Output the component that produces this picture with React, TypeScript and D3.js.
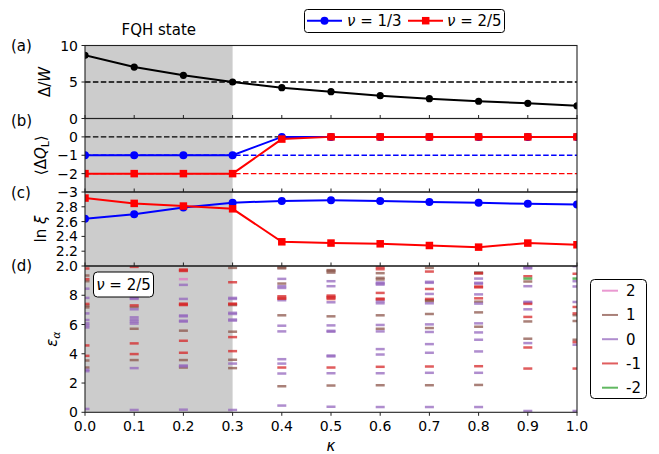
import React from 'react';
import * as d3 from 'd3';

// ---------- data ----------
const kappa = [0, 0.1, 0.2, 0.3, 0.4, 0.5, 0.6, 0.7, 0.8, 0.9, 1.0];
const gapRatio = [8.66, 7.05, 5.92, 5.0, 4.22, 3.67, 3.12, 2.71, 2.36, 2.08, 1.75];
const chargeNu13 = [-1, -1, -1, -1, 0, 0, 0, 0, 0, 0, 0];
const chargeNu25 = [-2, -2, -2, -2, -0.12, 0, 0, 0, 0, 0, 0];
const lnXiNu13 = [2.637, 2.7, 2.79, 2.855, 2.88, 2.887, 2.88, 2.864, 2.855, 2.84, 2.83];
const lnXiNu25 = [2.918, 2.846, 2.81, 2.773, 2.327, 2.31, 2.3, 2.277, 2.255, 2.31, 2.287];

const xTicks = [0, 0.1, 0.2, 0.3, 0.4, 0.5, 0.6, 0.7, 0.8, 0.9, 1.0];
const aTicks = [0, 5, 10];
const bTicks = [0, -1, -2, -3];
const cTicks = [2.0, 2.2, 2.4, 2.6, 2.8];
const dTicks = [0, 2, 4, 6, 8];

// entanglement spectrum levels per charge sector: [kappa, epsilon]
const sectorP2: [number, number][] = [[0.2, 9.1]];
const sectorP1: [number, number][] = [
  [0, 9.35], [0, 8.96], [0, 7.29], [0, 7.17], [0, 3.54], [0, 3.06],
  [0.1, 7.2], [0.1, 5.71], [0.1, 3.57],
  [0.2, 5.58], [0.2, 3.57], [0.2, 3.06],
  [0.3, 9.87], [0.3, 7.33], [0.3, 5.51], [0.3, 3.59], [0.3, 3.02],
  [0.4, 9.9], [0.4, 9.84], [0.4, 8.8], [0.4, 6.63], [0.4, 1.78],
  [0.5, 9.72], [0.5, 9.66], [0.5, 9.55], [0.5, 6.56], [0.5, 1.83],
  [0.6, 9.51], [0.6, 9.19], [0.6, 9.08], [0.6, 6.63], [0.6, 5.71], [0.6, 1.85],
  [0.7, 9.87], [0.7, 7.66], [0.7, 7.6], [0.7, 6.72], [0.7, 5.76], [0.7, 1.85],
  [0.8, 9.56], [0.8, 9.5], [0.8, 7.56], [0.8, 6.83], [0.8, 5.85], [0.8, 1.87],
  [0.9, 8.94], [0.9, 6.21], [0.9, 5.03],
  [1.0, 6.64], [1.0, 6.24], [1.0, 4.96],
];
const sector0: [number, number][] = [
  [0, 8.45], [0, 7.82], [0, 6.76], [0, 6.31], [0, 6.08], [0, 5.94], [0, 5.8], [0, 2.9], [0, 2.81], [0, 0.23],
  [0.1, 7.81], [0.1, 7.75], [0.1, 7.04], [0.1, 6.49], [0.1, 6.33], [0.1, 6.19], [0.1, 6.06], [0.1, 3.02], [0.1, 0.16],
  [0.2, 8.71], [0.2, 7.75], [0.2, 6.62], [0.2, 6.56], [0.2, 6.26], [0.2, 6.2], [0.2, 3.2], [0.2, 3.14], [0.2, 0.18],
  [0.3, 7.82], [0.3, 7.75], [0.3, 6.8], [0.3, 6.72], [0.3, 6.34], [0.3, 6.27], [0.3, 3.33], [0.3, 0.16],
  [0.4, 9.12], [0.4, 8.62], [0.4, 8.5], [0.4, 7.66], [0.4, 5.92], [0.4, 5.53], [0.4, 3.63], [0.4, 3.33], [0.4, 2.65], [0.4, 0.46],
  [0.5, 8.96], [0.5, 8.62], [0.5, 7.52], [0.5, 5.94], [0.5, 5.57], [0.5, 5.51], [0.5, 3.88], [0.5, 3.82], [0.5, 2.67], [0.5, 0.38],
  [0.6, 8.87], [0.6, 8.8], [0.6, 8.73], [0.6, 7.59], [0.6, 7.45], [0.6, 5.97], [0.6, 5.53], [0.6, 4.32], [0.6, 3.95], [0.6, 2.67], [0.6, 0.36],
  [0.7, 8.92], [0.7, 8.85], [0.7, 8.09], [0.7, 7.45], [0.7, 6.01], [0.7, 5.49], [0.7, 4.66], [0.7, 4.07], [0.7, 2.7], [0.7, 0.36],
  [0.8, 9.14], [0.8, 8.85], [0.8, 8.79], [0.8, 8.06], [0.8, 7.43], [0.8, 6.08], [0.8, 5.46], [0.8, 4.96], [0.8, 4.16], [0.8, 2.7], [0.8, 0.36],
  [0.9, 9.9], [0.9, 9.84], [0.9, 8.62], [0.9, 7.55], [0.9, 7.49], [0.9, 7.04], [0.9, 4.73], [0.9, 0.09],
  [1.0, 9.99], [1.0, 8.96], [1.0, 8.6], [1.0, 7.54], [1.0, 4.62], [1.0, 0.09],
];
const sectorM1: [number, number][] = [
  [0, 9.83], [0, 9.1], [0, 7.41], [0, 4.57], [0, 3.86],
  [0.1, 9.94], [0.1, 7.31], [0.1, 4.71], [0.1, 3.98],
  [0.2, 9.76], [0.2, 9.7], [0.2, 9.66], [0.2, 7.43], [0.2, 7.37], [0.2, 7.33], [0.2, 4.89], [0.2, 4.07],
  [0.3, 8.89], [0.3, 7.43], [0.3, 7.38], [0.3, 5.14], [0.3, 4.18],
  [0.4, 7.93], [0.4, 7.82], [0.4, 7.76], [0.4, 3.06],
  [0.5, 7.98], [0.5, 7.89], [0.5, 7.84], [0.5, 7.74], [0.5, 3.06],
  [0.6, 9.92], [0.6, 9.78], [0.6, 8.16], [0.6, 7.77], [0.6, 7.72], [0.6, 3.11],
  [0.7, 9.62], [0.7, 8.43], [0.7, 7.75], [0.7, 3.13],
  [0.8, 9.5], [0.8, 8.6], [0.8, 8.54], [0.8, 7.79], [0.8, 3.15],
  [0.9, 9.3], [0.9, 7.41], [0.9, 6.52], [0.9, 4.43], [0.9, 2.99],
  [1.0, 9.47], [1.0, 7.2], [1.0, 6.76], [1.0, 4.8], [1.0, 2.99],
];
const sectorM2: [number, number][] = [[0.9, 9.14], [1.0, 9.14]];

const sectorLabels = ['2', '1', '0', '-1', '-2'];
const sectorColors = ['#e377c2', '#8c564b', '#9467bd', '#d62728', '#2ca02c'];
const sectorData = [sectorP2, sectorP1, sector0, sectorM1, sectorM2];

const FONT = 'DejaVu Sans';

export default function App() {
  const W = 659, H = 454;
  const L = 85, R = 577;
  const x = d3.scaleLinear().domain([0, 1]).range([L, R]);
  const pa = { t: 45.5, b: 118.5 };
  const pb = { t: 118.5, b: 192 };
  const pc = { t: 192, b: 266 };
  const pd = { t: 266, b: 412.3 };
  const ya = d3.scaleLinear().domain([0, 10]).range([pa.b, pa.t]);
  const yb = d3.scaleLinear().domain([-3, 1]).range([pb.b, pb.t]);
  const yc = d3.scaleLinear().domain([2.0, 3.0]).range([pc.b, pc.t]);
  const yd = d3.scaleLinear().domain([0, 10]).range([pd.b, pd.t]);

  const line = (ys: number[], sc: d3.ScaleLinear<number, number>) =>
    d3.line<number>().x((_, i) => x(kappa[i])).y((v) => sc(v))(ys) || '';

  const axisColor = '#222';
  const tickLen = 3.5;
  const fs = 14;
  const dash = '5.5,2.4';

  const yTicks = (ticks: number[], sc: d3.ScaleLinear<number, number>, fmt: (v: number) => string, key: string) =>
    ticks.map((t) => (
      <g key={key + t}>
        <line x1={L - tickLen} x2={L} y1={sc(t)} y2={sc(t)} stroke={axisColor} strokeWidth={1} />
        <text x={L - 7} y={sc(t)} dy="0.36em" textAnchor="end" fontSize={fs} fontFamily={FONT} fill="#000">
          {fmt(t)}
        </text>
      </g>
    ));

  const markerCircle = (cx: number, cy: number, r: number, fill: string, key: string) => (
    <circle key={key} cx={cx} cy={cy} r={r} fill={fill} />
  );
  const markerSquare = (cx: number, cy: number, s: number, fill: string, key: string) => (
    <rect key={key} x={cx - s / 2} y={cy - s / 2} width={s} height={s} fill={fill} />
  );

  const minus = (v: number) => (v < 0 ? '\u2212' + Math.abs(v) : String(v));

  return (
    <svg width={W} height={H} style={{ position: 'absolute', left: 0, top: 0, background: '#fff' }}>
      <defs>
        <clipPath id="clipD">
          <rect x={L} y={pd.t} width={R - L} height={pd.b - pd.t} />
        </clipPath>
        <clipPath id="clipAll">
          <rect x={L} y={pa.t} width={R - L} height={pd.b - pa.t} />
        </clipPath>
      </defs>
      <rect x={0} y={0} width={W} height={H} fill="#fff" />
      {/* shaded FQH region */}
      <rect x={x(0)} y={pa.t} width={x(0.3) - x(0)} height={pd.b - pa.t} fill="#cccccc" />

      <g clipPath="url(#clipAll)">
        {/* panel a */}
        <line x1={L} x2={R} y1={ya(5)} y2={ya(5)} stroke="#000" strokeWidth={1.3} strokeDasharray={dash} />
        <path d={line(gapRatio, ya)} fill="none" stroke="#000" strokeWidth={2} />
        {gapRatio.map((v, i) => markerCircle(x(kappa[i]), ya(v), 3.6, '#000', 'a' + i))}

        {/* panel b */}
        <line x1={L} x2={R} y1={yb(0)} y2={yb(0)} stroke="#000" strokeWidth={1.3} strokeDasharray={dash} />
        <line x1={L} x2={R} y1={yb(-1)} y2={yb(-1)} stroke="#0000ff" strokeWidth={1.3} strokeDasharray={dash} />
        <line x1={L} x2={R} y1={yb(-2)} y2={yb(-2)} stroke="#ff0000" strokeWidth={1.3} strokeDasharray={dash} />
        <path d={line(chargeNu13, yb)} fill="none" stroke="#0000ff" strokeWidth={2} />
        {chargeNu13.map((v, i) => markerCircle(x(kappa[i]), yb(v), 4, '#0000ff', 'b1' + i))}
        <path d={line(chargeNu25, yb)} fill="none" stroke="#ff0000" strokeWidth={2} />
        {chargeNu25.map((v, i) => markerSquare(x(kappa[i]), yb(v), 7.5, '#ff0000', 'b2' + i))}

        {/* panel c */}
        <path d={line(lnXiNu13, yc)} fill="none" stroke="#0000ff" strokeWidth={2} />
        {lnXiNu13.map((v, i) => markerCircle(x(kappa[i]), yc(v), 4, '#0000ff', 'c1' + i))}
        <path d={line(lnXiNu25, yc)} fill="none" stroke="#ff0000" strokeWidth={2} />
        {lnXiNu25.map((v, i) => markerSquare(x(kappa[i]), yc(v), 7.5, '#ff0000', 'c2' + i))}
      </g>

      {/* panel d: spectrum */}
      <g clipPath="url(#clipD)">
        {sectorData.map((arr, si) =>
          arr.map(([k, e], j) => (
            <rect
              key={'d' + si + '_' + j}
              x={x(k) - 4.5}
              y={yd(e) - 1.25}
              width={9}
              height={2.5}
              fill={sectorColors[si]}
              fillOpacity={0.75}
            />
          ))
        )}
      </g>

      {/* spines */}
      {[pa, pb, pc, pd].map((p, i) => (
        <rect key={'sp' + i} x={L} y={p.t} width={R - L} height={p.b - p.t} fill="none" stroke={axisColor} strokeWidth={1.1} />
      ))}

      {/* x ticks at inner boundaries (pointing up) and bottom (pointing down) */}
      {[pa.b, pb.b, pc.b].map((yy, i) =>
        xTicks.map((t) => (
          <line key={'xt' + i + t} x1={x(t)} x2={x(t)} y1={yy} y2={yy - tickLen} stroke={axisColor} strokeWidth={1} />
        ))
      )}
      {xTicks.map((t) => (
        <g key={'xb' + t}>
          <line x1={x(t)} x2={x(t)} y1={pd.b} y2={pd.b + tickLen} stroke={axisColor} strokeWidth={1} />
          <text x={x(t)} y={pd.b + 19} textAnchor="middle" fontSize={fs} fontFamily={FONT}>
            {t.toFixed(1)}
          </text>
        </g>
      ))}

      {/* y ticks */}
      {yTicks(aTicks, ya, (v) => String(v), 'ya')}
      {yTicks(bTicks, yb, minus, 'yb')}
      {yTicks(cTicks, yc, (v) => v.toFixed(1), 'yc')}
      {yTicks(dTicks, yd, (v) => String(v), 'yd')}

      {/* y labels */}
      <text transform={`translate(50,${(pa.t + pa.b) / 2}) rotate(-90)`} textAnchor="middle" fontSize={15} fontFamily={FONT}>
        Δ/<tspan fontStyle="italic">W</tspan>
      </text>
      <text transform={`translate(46,${(pb.t + pb.b) / 2}) rotate(-90)`} textAnchor="middle" fontSize={15} fontFamily={FONT}>
        ⟨Δ<tspan fontStyle="italic">Q</tspan>
        <tspan fontSize={11} dy={3}>L</tspan>
        <tspan dy={-3}>⟩</tspan>
      </text>
      <text transform={`translate(46,${(pc.t + pc.b) / 2}) rotate(-90)`} textAnchor="middle" fontSize={15} fontFamily={FONT}>
        ln <tspan fontStyle="italic">ξ</tspan>
      </text>
      <text transform={`translate(57,${(pd.t + pd.b) / 2}) rotate(-90)`} textAnchor="middle" fontSize={15} fontFamily={FONT}>
        <tspan fontStyle="italic">ε</tspan>
        <tspan fontStyle="italic" fontSize={11} dy={3}>α</tspan>
      </text>
      <text x={(L + R) / 2} y={451} textAnchor="middle" fontSize={15} fontFamily={FONT} fontStyle="italic">
        κ
      </text>

      {/* panel labels */}
      <text x={11} y={51} fontSize={15} fontFamily={FONT}>(a)</text>
      <text x={11} y={126} fontSize={15} fontFamily={FONT}>(b)</text>
      <text x={11} y={198} fontSize={15} fontFamily={FONT}>(c)</text>
      <text x={11} y={270.5} fontSize={15} fontFamily={FONT}>(d)</text>
      <text x={x(0.15)} y={35} textAnchor="middle" fontSize={15} fontFamily={FONT}>FQH state</text>

      {/* top legend */}
      <rect x={304.5} y={9.5} width={200} height={23} rx={3} fill="#fff" stroke="#000" strokeWidth={1} />
      <line x1={307} x2={342} y1={20.7} y2={20.7} stroke="#0000ff" strokeWidth={2} />
      <circle cx={324.5} cy={20.7} r={4} fill="#0000ff" />
      <text x={347} y={26} fontSize={15} fontFamily={FONT}>
        <tspan fontStyle="italic">ν</tspan> = 1/3
      </text>
      <line x1={408} x2={443} y1={20.7} y2={20.7} stroke="#ff0000" strokeWidth={2} />
      <rect x={425.7 - 3.75} y={20.7 - 3.75} width={7.5} height={7.5} fill="#ff0000" />
      <text x={447} y={26} fontSize={15} fontFamily={FONT}>
        <tspan fontStyle="italic">ν</tspan> = 2/5
      </text>

      {/* panel d inner label */}
      <rect x={93.5} y={272} width={60} height={25} rx={4} fill="#fff" stroke="#000" strokeWidth={1} />
      <text x={123.5} y={289.5} textAnchor="middle" fontSize={15} fontFamily={FONT}>
        <tspan fontStyle="italic">ν</tspan> = 2/5
      </text>

      {/* right legend */}
      <rect x={590.5} y={279.5} width={56} height={119} rx={4} fill="#fff" stroke="#000" strokeWidth={1} />
      {sectorLabels.map((lab, i) => {
        const yy = 290.7 + i * 24.25;
        return (
          <g key={'lg' + i}>
            <line x1={602} x2={618} y1={yy} y2={yy} stroke={sectorColors[i]} strokeWidth={2} strokeOpacity={0.75} />
            <text x={626} y={yy} dy="0.36em" fontSize={15} fontFamily={FONT}>
              {lab}
            </text>
          </g>
        );
      })}
    </svg>
  );
}
